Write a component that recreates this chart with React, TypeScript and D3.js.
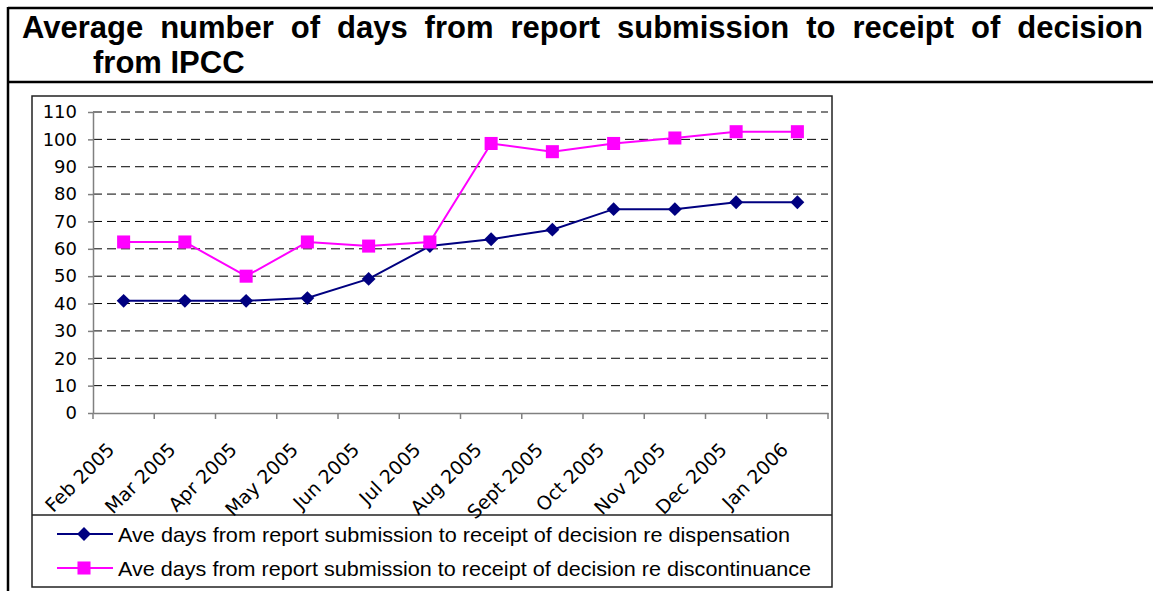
import React, { useRef, useEffect } from "react";
import { select, scaleBand, scaleLinear, line, axisLeft, axisBottom, symbol, symbolSquare } from "d3";

const months = [
  "Feb 2005", "Mar 2005", "Apr 2005", "May 2005", "Jun 2005", "Jul 2005",
  "Aug 2005", "Sept 2005", "Oct 2005", "Nov 2005", "Dec 2005", "Jan 2006",
];
const dispensation = [41, 41, 41, 42, 49, 61, 63.5, 67, 74.5, 74.5, 77, 77];
const discontinuance = [62.5, 62.5, 50, 62.5, 61, 62.5, 98.5, 95.5, 98.5, 100.5, 102.8, 102.8];
const yTicks = [0, 10, 20, 30, 40, 50, 60, 70, 80, 90, 100, 110];

const titleLine1 = "Average number of days from report submission to receipt of decision";
const titleLine2 = "from IPCC";
const legendLabels = [
  "Ave days from report submission to receipt of decision re dispensation",
  "Ave days from report submission to receipt of decision re discontinuance",
];

const W = 1153;
const H = 591;
const titleFont = "'Liberation Sans', Arial, sans-serif";

function App() {
  const svgRef = useRef<SVGSVGElement>(null);

  useEffect(() => {
    const svg = select(svgRef.current);
    svg.selectAll("*").remove();

    // page frame (table borders)
    svg.append("line").attr("x1", 8).attr("x2", W).attr("y1", 8).attr("y2", 8)
      .attr("stroke", "#000").attr("stroke-width", 2.5);
    svg.append("line").attr("x1", 8).attr("x2", 8).attr("y1", 7).attr("y2", H)
      .attr("stroke", "#000").attr("stroke-width", 2.5);
    svg.append("line").attr("x1", 8).attr("x2", W).attr("y1", 82).attr("y2", 82)
      .attr("stroke", "#000").attr("stroke-width", 2.5);

    // title, justified word by word (condensed if needed)
    const words = titleLine1.split(" ");
    const tg = svg.append("g");
    const nodes = words.map(w =>
      tg.append("text").attr("y", 38)
        .style("font-family", titleFont).style("font-weight", "bold").style("font-size", "31px")
        .text(w)
    );
    const widths = nodes.map(n => (n.node() as SVGTextElement).getComputedTextLength());
    const total = widths.reduce((a, b) => a + b, 0);
    const avail = 1121;
    const minGap = 9;
    let sx = 1;
    if (total + minGap * (words.length - 1) > avail) sx = (avail - minGap * (words.length - 1)) / total;
    const gap = (avail - total * sx) / (words.length - 1);
    let cur = 22;
    nodes.forEach((n, i) => {
      n.attr("x", cur);
      if (sx !== 1) n.attr("textLength", widths[i] * sx).attr("lengthAdjust", "spacingAndGlyphs");
      cur += widths[i] * sx + gap;
    });
    const t2 = svg.append("text")
      .attr("x", 93).attr("y", 73)
      .style("font-family", titleFont)
      .style("font-weight", "bold").style("font-size", "31px")
      .text(titleLine2);
    if (sx !== 1) {
      const w2 = (t2.node() as SVGTextElement).getComputedTextLength();
      t2.attr("textLength", w2 * sx).attr("lengthAdjust", "spacingAndGlyphs");
    }

    // chart box + legend box
    svg.append("rect").attr("x", 32).attr("y", 96).attr("width", 800).attr("height", 491)
      .attr("fill", "#fff").attr("stroke", "#222").attr("stroke-width", 1.5);
    svg.append("line").attr("x1", 32).attr("x2", 832).attr("y1", 515).attr("y2", 515)
      .attr("stroke", "#222").attr("stroke-width", 1.5);

    const x = scaleBand().domain(months).range([93, 828]).padding(0);
    const y = scaleLinear().domain([0, 110]).range([413, 112]);
    const cx = (m: string) => (x(m) as number) + x.bandwidth() / 2;

    // gridlines
    svg.append("g").selectAll("line")
      .data(yTicks.filter(t => t > 0))
      .join("line")
      .attr("x1", 93).attr("x2", 828)
      .attr("y1", d => y(d)).attr("y2", d => y(d))
      .attr("stroke", "#000").attr("stroke-width", 1)
      .attr("stroke-dasharray", "9,5");

    // y axis
    const yAxis = axisLeft(y).tickValues(yTicks).tickSize(5).tickSizeOuter(0);
    const gy = svg.append("g").attr("transform", "translate(93,0)").call(yAxis);
    gy.select(".domain").attr("stroke", "#808080").attr("stroke-width", 1.5);
    gy.selectAll(".tick line").attr("stroke", "#808080").attr("stroke-width", 1.5);
    gy.selectAll(".tick text")
      .attr("x", -16)
      .style("font-family", "'DejaVu Sans', Verdana, sans-serif")
      .style("font-size", "18px").attr("fill", "#000");

    // x axis
    const xAxis = axisBottom(x).tickValues([]).tickSizeOuter(0);
    const gx = svg.append("g").attr("transform", "translate(0,413)").call(xAxis);
    gx.select(".domain").attr("stroke", "#808080").attr("stroke-width", 1.5);
    svg.append("g").selectAll("line")
      .data([...months.map(m => x(m) as number), 828])
      .join("line")
      .attr("x1", d => d).attr("x2", d => d)
      .attr("y1", 413).attr("y2", 419)
      .attr("stroke", "#808080").attr("stroke-width", 1.5);
    svg.append("g").selectAll("text")
      .data(months)
      .join("text")
      .attr("transform", d => `translate(${cx(d) - 8},451) rotate(-45)`)
      .attr("text-anchor", "end")
      .style("font-family", "'DejaVu Sans', Verdana, sans-serif")
      .style("font-size", "19px")
      .text(d => d);

    // series
    const series = [
      { values: dispensation, color: "#000080", sym: symbolSquare, size: 96, rot: 45, width: 2 },
      { values: discontinuance, color: "#FF00FF", sym: symbolSquare, size: 170, rot: 0, width: 2 },
    ];
    const pathGen = line<number>()
      .x((_, i) => cx(months[i]))
      .y(d => y(d));

    series.forEach(s => {
      svg.append("path")
        .attr("d", pathGen(s.values))
        .attr("fill", "none").attr("stroke", s.color).attr("stroke-width", s.width);
      svg.append("g").selectAll("path")
        .data(s.values)
        .join("path")
        .attr("transform", (d, i) => `translate(${cx(months[i])},${y(d)}) rotate(${s.rot})`)
        .attr("d", symbol().type(s.sym).size(s.size)())
        .attr("fill", s.color);
    });

    // legend
    const legendY = [534, 568];
    const legendLen = [672, 693];
    series.forEach((s, i) => {
      const g = svg.append("g").attr("transform", `translate(0,${legendY[i]})`);
      g.append("line").attr("x1", 57).attr("x2", 113).attr("y1", 0).attr("y2", 0)
        .attr("stroke", s.color).attr("stroke-width", s.width);
      g.append("path").attr("transform", `translate(84,0) rotate(${s.rot})`)
        .attr("d", symbol().type(s.sym).size(s.size)())
        .attr("fill", s.color);
      g.append("text")
        .attr("x", 118).attr("y", 0).attr("dy", "0.36em")
        .attr("textLength", legendLen[i]).attr("lengthAdjust", "spacingAndGlyphs")
        .style("font-family", "'Liberation Sans', Arial, sans-serif")
        .style("font-size", "21px")
        .text(legendLabels[i]);
    });
  }, []);

  return (
    <svg
      ref={svgRef}
      width={W}
      height={H}
      style={{ position: "absolute", left: 0, top: 0, background: "#fff" }}
    />
  );
}

export default App;
